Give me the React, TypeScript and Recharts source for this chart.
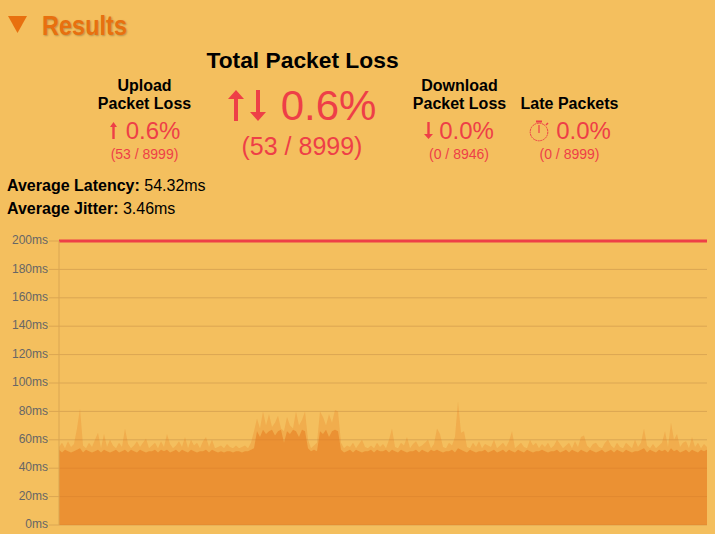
import { AreaChart, Area, XAxis, YAxis, CartesianGrid, ReferenceLine } from 'recharts'

const latencyTicks = [0, 20, 40, 60, 80, 100, 120, 140, 160, 180, 200]
const lateThreshold = 200

// spike tips left to right
const latencyPeaks = [
  55, 58, 54, 59, 55, 57, 68, 82, 56, 54, 58, 55, 60, 65, 54, 64, 55, 60,
  56, 54, 58, 55, 68, 57, 54, 56, 59, 55, 58, 61, 54, 56, 58, 54, 59, 55,
  64, 57, 54, 56, 59, 55, 62, 54, 60, 56, 58, 54, 59, 62, 55, 60, 54, 55,
  56, 54, 57, 55, 54, 56, 54, 55, 56, 54, 58, 66, 75, 68, 80, 70, 78, 69,
  72, 77, 68, 66, 76, 70, 68, 80, 70, 74, 80, 60, 54, 56, 58, 80, 76, 70,
  78, 72, 81, 80, 58, 54, 56, 55, 58, 54, 57, 60, 55, 54, 56, 54, 58, 55,
  57, 54, 60, 68, 55, 54, 58, 56, 62, 54, 57, 59, 55, 56, 58, 60, 54, 57,
  68, 64, 55, 54, 58, 56, 62, 87, 65, 66, 55, 54, 58, 55, 59, 54, 57, 56,
  55, 60, 54, 56, 58, 55, 59, 66, 54, 56, 58, 55, 54, 60, 56, 58, 54, 57,
  55, 58, 54, 56, 60, 57, 54, 56, 58, 54, 59, 55, 62, 63, 56, 54, 57, 58,
  55, 54, 58, 60, 56, 54, 58, 55, 54, 58, 56, 54, 60, 55, 58, 68, 56, 54,
  57, 54, 56, 58, 66, 55, 72, 60, 64, 55, 58, 59, 54, 62, 55, 58, 54, 57, 55,
]

// solid body of the area
const latencyBody = [
  53, 51, 53, 52, 51, 52, 53, 54, 51, 53, 52, 51, 52, 53, 51, 53, 52, 51,
  52, 53, 51, 52, 53, 51, 53, 52, 51, 53, 52, 51, 52, 52, 53, 51, 53, 52,
  53, 51, 52, 53, 51, 53, 52, 51, 53, 52, 51, 52, 52, 53, 51, 53, 52, 51,
  52, 51, 52, 52, 51, 52, 52, 51, 52, 52, 53, 54, 66, 62, 67, 64, 66, 67,
  63, 66, 67, 58, 66, 64, 67, 66, 62, 67, 66, 54, 52, 53, 52, 66, 64, 67,
  62, 66, 67, 66, 53, 51, 52, 53, 51, 53, 52, 51, 52, 52, 53, 51, 53, 52,
  52, 53, 51, 53, 52, 51, 53, 52, 51, 52, 52, 53, 51, 53, 52, 51, 53, 52,
  53, 52, 51, 52, 52, 53, 51, 54, 53, 52, 51, 53, 52, 51, 52, 52, 53, 51,
  52, 53, 51, 52, 53, 51, 53, 52, 51, 53, 52, 51, 53, 52, 51, 52, 52, 53,
  52, 51, 52, 52, 53, 51, 52, 53, 51, 53, 52, 51, 53, 52, 51, 53, 52, 51,
  52, 53, 51, 52, 53, 51, 53, 52, 51, 53, 52, 51, 52, 52, 53, 54, 51, 53,
  52, 51, 53, 52, 53, 51, 54, 52, 53, 51, 52, 53, 51, 53, 52, 51, 53, 52, 53,
]

const chartData = latencyPeaks.map((peak, i) => ({ i, peak, body: latencyBody[i] }))

const RED = '#ee3f47'
const FONT = '"Liberation Sans", Arial, sans-serif'

function Txt({ cx, y, size, bold, color, children }: any) {
  return (
    <div style={{
      position: 'absolute', left: cx, top: y, transform: 'translate(-50%, -50%)',
      fontSize: size, lineHeight: 1, fontWeight: bold ? 700 : 400, color: color || '#000', whiteSpace: 'nowrap',
    }}>{children}</div>
  )
}

function Icons() {
  return (
    <svg width={715} height={230} style={{ position: 'absolute', left: 0, top: 0 }}>
      <polygon points="8,16 27,16 17.5,33" fill="#e8700f" />
      {/* big up and down arrows */}
      <path d="M236 90 L244 99 L238 99 L238 121 L234 121 L234 99 L228 99 Z" fill={RED} />
      <path d="M258 121 L250 112 L256 112 L256 90 L260 90 L260 112 L266 112 Z" fill={RED} />
      {/* small arrows */}
      <path d="M113.5 122 L117 127 L114.7 127 L114.7 139 L112.3 139 L112.3 127 L110 127 Z" fill={RED} />
      <path d="M428.5 139 L433 134 L429.7 134 L429.7 122 L427.3 122 L427.3 134 L424 134 Z" fill={RED} />
      {/* stopwatch */}
      <circle cx={539} cy={132} r={8.8} fill="none" stroke={RED} strokeWidth={1} strokeDasharray="2 0.6" />
      <rect x={536} y={120.5} width={6} height={2} fill={RED} />
      <line x1={539} y1={125} x2={539} y2={133} stroke={RED} strokeWidth={1.2} />
      <line x1={546} y1={125} x2={548} y2={123} stroke={RED} strokeWidth={1.5} />
    </svg>
  )
}

export default function App() {
  return (
    <div style={{ position: 'absolute', left: 0, top: 0, width: 715, height: 534, overflow: 'hidden', background: '#f4bf5e', fontFamily: FONT }}>
      <Icons />
      <div style={{
        position: 'absolute', left: 42, top: 11, transform: 'scaleX(0.84)', transformOrigin: 'left center',
        fontSize: 28, lineHeight: '30px', fontWeight: 700, color: '#e8700f', textShadow: '1px 1px 2px rgba(0,0,0,0.25)',
      }}>Results</div>

      <Txt cx={302.5} y={60} size={22.8} bold>Total Packet Loss</Txt>
      <Txt cx={328.5} y={106} size={42} color={RED}>0.6%</Txt>
      <Txt cx={302} y={146} size={25} color={RED}>(53 / 8999)</Txt>

      <Txt cx={144.5} y={86} size={16} bold>Upload</Txt>
      <Txt cx={144.5} y={104} size={16} bold>Packet Loss</Txt>
      <Txt cx={153} y={131} size={24} color={RED}>0.6%</Txt>
      <Txt cx={144.5} y={153.5} size={14} color={RED}>(53 / 8999)</Txt>

      <Txt cx={459.5} y={86} size={16} bold>Download</Txt>
      <Txt cx={459.5} y={104} size={16} bold>Packet Loss</Txt>
      <Txt cx={466.5} y={131} size={24} color={RED}>0.0%</Txt>
      <Txt cx={459} y={153.5} size={14} color={RED}>(0 / 8946)</Txt>

      <Txt cx={569.5} y={104} size={16} bold>Late Packets</Txt>
      <Txt cx={583.5} y={131} size={24} color={RED}>0.0%</Txt>
      <Txt cx={569.5} y={153.5} size={14} color={RED}>(0 / 8999)</Txt>

      <div style={{ position: 'absolute', left: 7, top: 176, fontSize: 16, lineHeight: '20px', whiteSpace: 'nowrap' }}>
        <b>Average Latency:</b> 54.32ms
      </div>
      <div style={{ position: 'absolute', left: 7, top: 199, fontSize: 16, lineHeight: '20px', whiteSpace: 'nowrap' }}>
        <b>Average Jitter:</b> 3.46ms
      </div>

      <div style={{ position: 'absolute', left: 0, top: 230 }}>
        <AreaChart width={715} height={304} data={chartData} margin={{ top: 11, right: 8, bottom: 9, left: 0 }}>
          <CartesianGrid vertical={false} stroke="#dba652" />
          <XAxis dataKey="i" height={0} tick={false} tickLine={false} axisLine={{ stroke: '#b8863a' }} />
          <YAxis
            width={59} type="number" domain={[0, 200]} ticks={latencyTicks} interval={0}
            tick={{ fill: '#666', fontSize: 12, fontFamily: FONT, dy: -1 }} tickSize={10} tickMargin={1}
            tickLine={{ stroke: '#dba652' }} axisLine={{ stroke: '#dba652' }}
            tickFormatter={(v) => `${v}ms`}
          />
          <Area type="linear" dataKey="peak" stroke="none" fill="#e6761a" fillOpacity={0.25} dot={false} activeDot={false} isAnimationActive={false} />
          <Area type="linear" dataKey="body" stroke="none" fill="#e6761a" fillOpacity={0.5} dot={false} activeDot={false} isAnimationActive={false} />
          <ReferenceLine y={lateThreshold} stroke={RED} strokeWidth={3} />
        </AreaChart>
      </div>
    </div>
  )
}
